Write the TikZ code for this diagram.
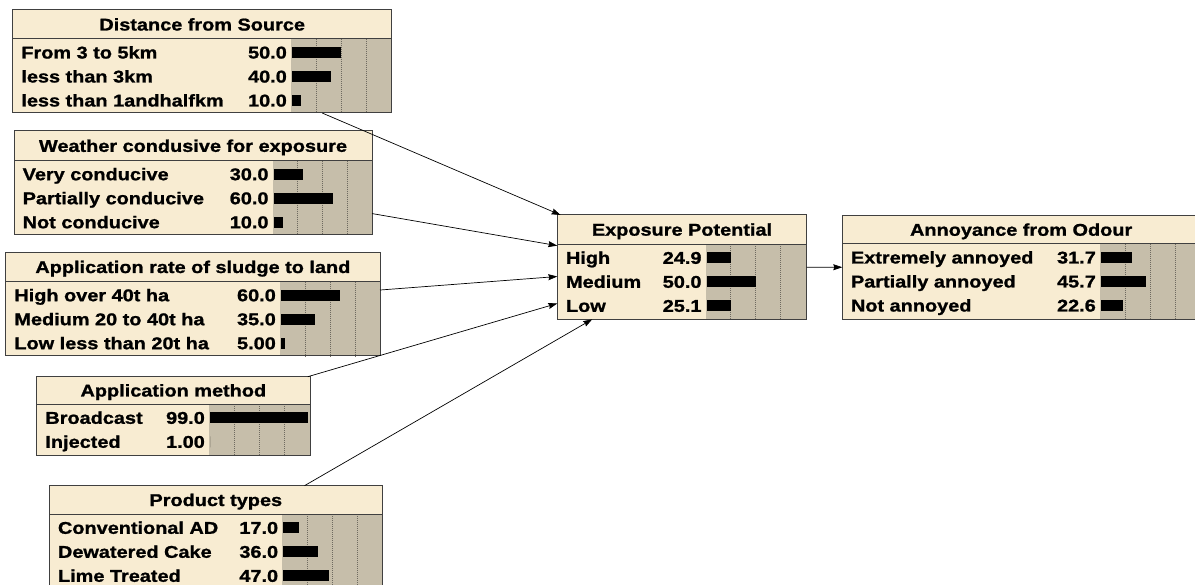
\documentclass[tikz,border=0pt]{standalone}
\usepackage{fontspec}
\newfontfamily\bnfont[FakeStretch=1.17,FakeBold=1.2]{Liberation Sans Bold}
\usetikzlibrary{arrows.meta}
\definecolor{nodefill}{HTML}{F8ECD2}
\definecolor{barfill}{HTML}{C6BEAA}
\definecolor{edgegray}{HTML}{404040}
\definecolor{gridgray}{HTML}{6E6A60}
\tikzset{
  bnbox/.style={fill=nodefill, draw=none, inner sep=0pt, outer sep=0pt, rectangle},
  bnborder/.style={draw=edgegray, line width=1pt},
  bngrid/.style={draw=gridgray, line width=0.6pt, dash pattern=on 1pt off 1pt},
  bntext/.style={inner sep=0pt, font=\bnfont\fontsize{17}{17}\selectfont},
  bnbar/.style={fill=black},
  link/.style={draw=black, line width=0.7pt, -{Stealth[length=9pt,width=6pt,inset=1pt]}}
}
% #1 name, #2 left, #3 top, #4 right, #5 title rule, #6 bottom, #7 bar-area left,
% #8 title, #9 rows as label/value/percent
\newcommand\bnnode[9]{%
  \pgfmathsetmacro\bnw{#4-#2}%
  \pgfmathsetmacro\bnh{#6-#3}%
  \node[bnbox, minimum width=\bnw pt, minimum height=\bnh pt, anchor=north west] (#1) at (#2,#3) {};
  \fill[barfill] (#7,#5) rectangle (#4,#6);
  \foreach \k in {25,50,75} {\draw[bngrid] (#7+\k,#5) -- (#7+\k,#6);}
  \draw[bnborder] (#2,#5) -- (#4,#5);
  \draw[bnborder] (#1.north west) rectangle (#1.south east);
  \node[bntext, anchor=base] at ({(#2+#4)/2},{(#3+#5)/2+6}) {#8};
  \foreach \lab/\val/\pct [count=\i] in {#9} {
    \pgfmathsetmacro\yc{#5+13.5+24*(\i-1)}
    \node[bntext, anchor=base west] at (#2+8.5,\yc+6) {\lab};
    \node[bntext, anchor=base east] at (#7-4,\yc+6) {\val};
    \fill[bnbar] (#7+1,\yc-5.5) rectangle (#7+\pct,\yc+5.5);
  }
}
\begin{document}
\begin{tikzpicture}[x=1pt,y=-1pt]
\useasboundingbox (0,0) rectangle (1195,585);
\fill[white] (0,0) rectangle (1195,585);

\bnnode{dist}{12.7}{10}{391.7}{39}{113}{291}{Distance from Source}
  {From 3 to 5km/50.0/50, less than 3km/40.0/40, less than 1andhalfkm/10.0/10}
\bnnode{weather}{14}{131}{372}{160.7}{234.7}{272.7}{Weather condusive for exposure}
  {Very conducive/30.0/30, Partially conducive/60.0/60, Not conducive/10.0/10}
\bnnode{rate}{5.7}{252.3}{380}{281.7}{356}{280}{Application rate of sludge to land}
  {High over 40t ha/60.0/60, Medium 20 to 40t ha/35.0/35, Low less than 20t ha/5.00/5}
\bnnode{method}{36.7}{376.7}{310}{404.3}{455.7}{209}{Application method}
  {Broadcast/99.0/99, Injected/1.00/1}
\bnnode{product}{49.3}{485.7}{382.3}{514.3}{588.3}{282.3}{Product types}
  {Conventional AD/17.0/17, Dewatered Cake/36.0/36, Lime Treated/47.0/47}
\bnnode{exposure}{557.3}{215}{806.7}{244.3}{319.3}{705.7}{Exposure Potential}
  {High/24.9/24.9, Medium/50.0/50, Low/25.1/25.1}
\bnnode{annoy}{842.3}{215.5}{1200}{244}{319.3}{1100}{Annoyance from Odour}
  {Extremely annoyed/31.7/31.7, Partially annoyed/45.7/45.7, Not annoyed/22.6/22.6}

\draw[link] (dist) -- (exposure);
\draw[link] (weather) -- (exposure);
\draw[link] (rate) -- (exposure);
\draw[link] (method) -- (exposure);
\draw[link] (product) -- (exposure);
\draw[link] (exposure) -- (annoy);
\end{tikzpicture}
\end{document}
